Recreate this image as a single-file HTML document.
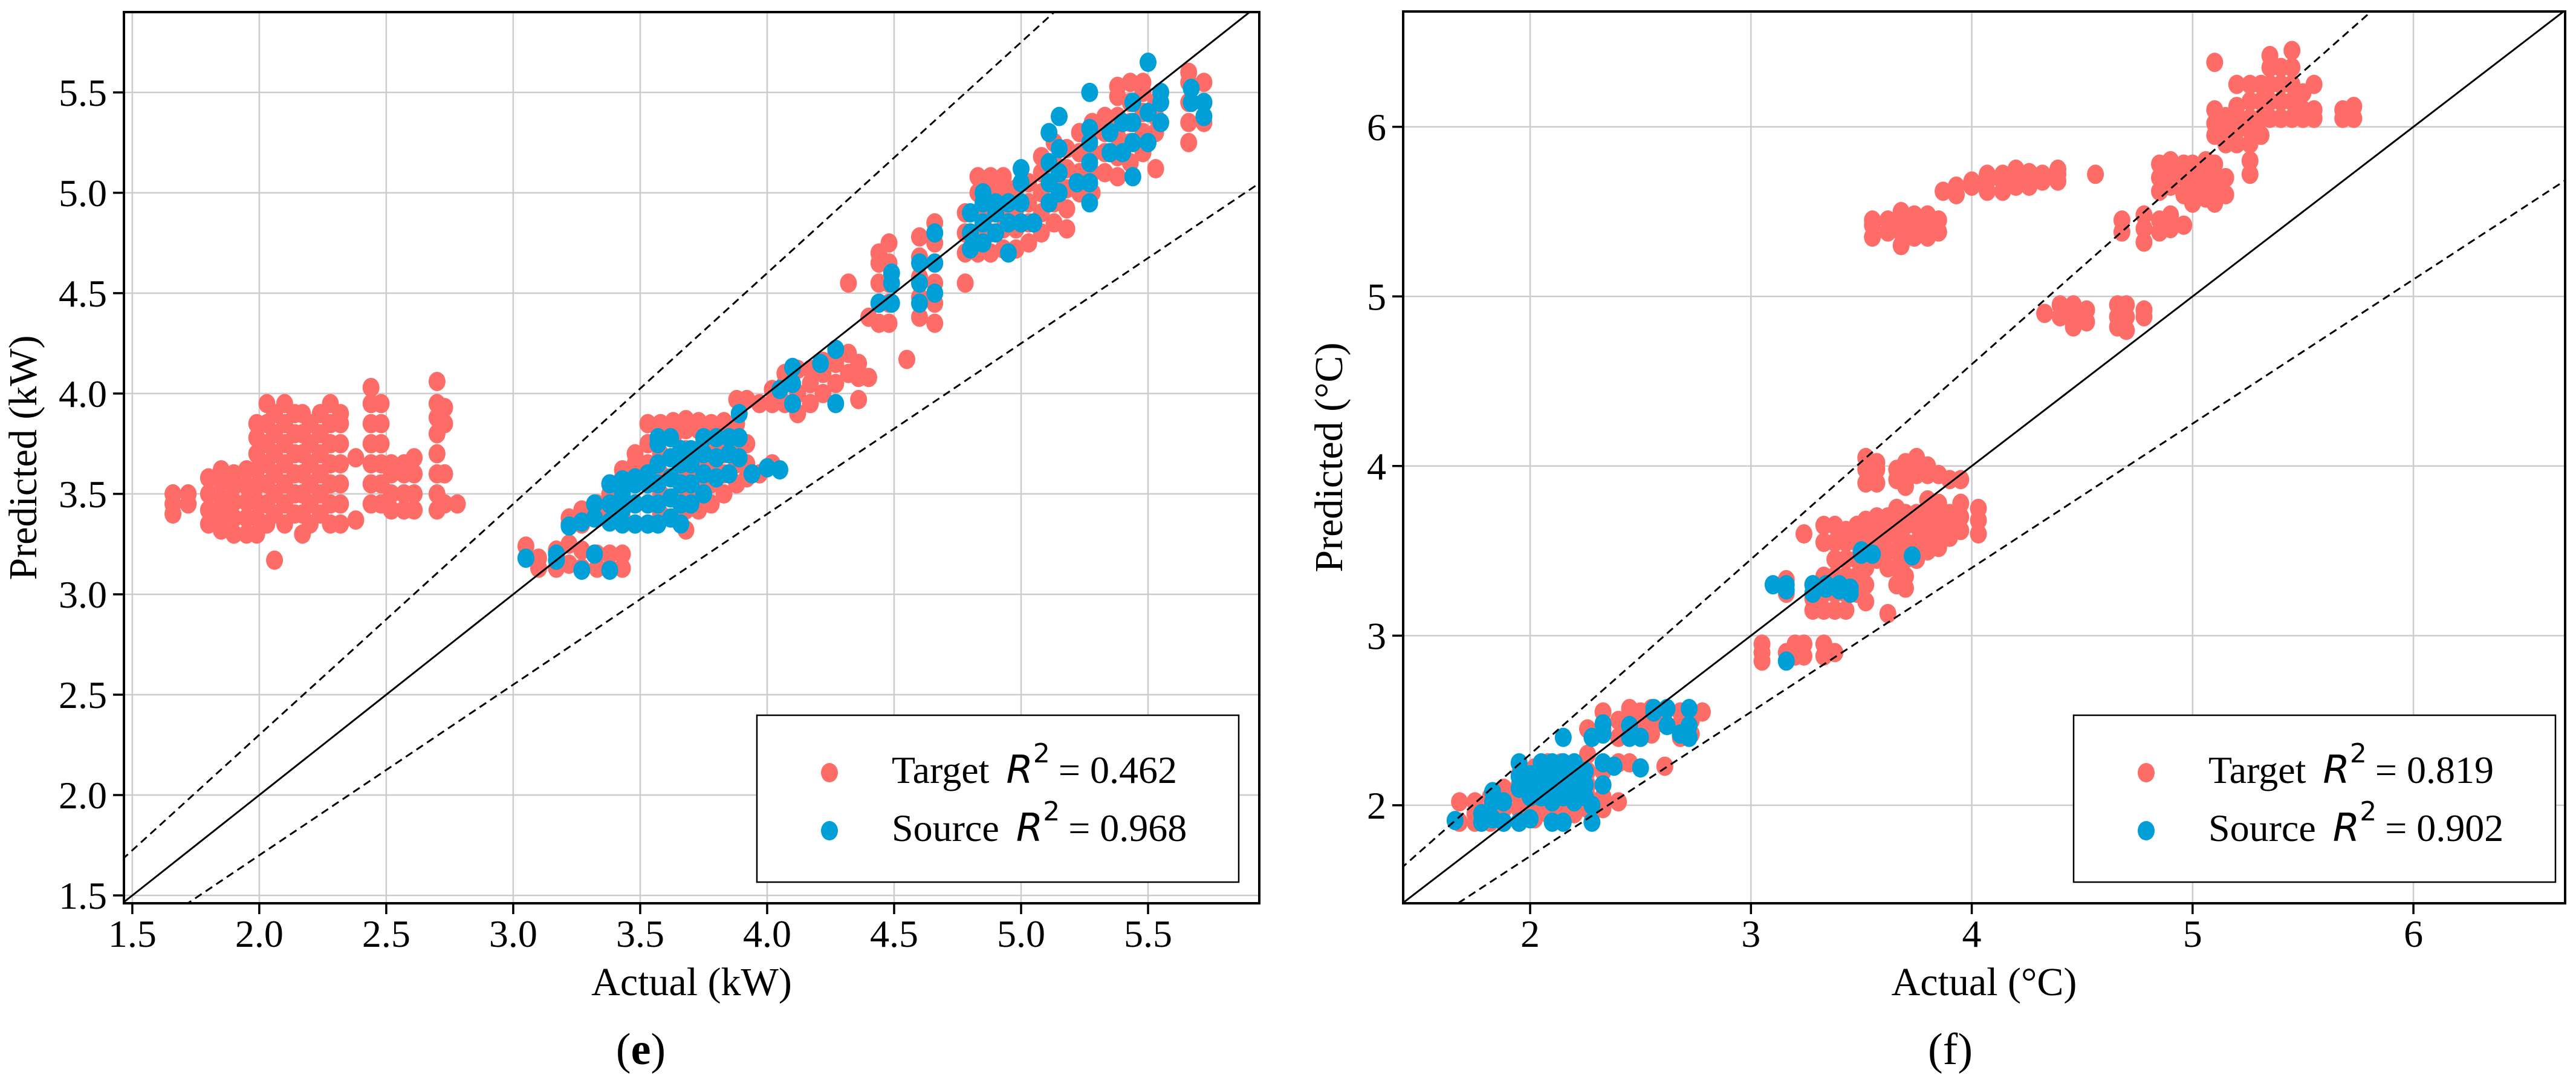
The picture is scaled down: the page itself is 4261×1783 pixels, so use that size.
<!DOCTYPE html>
<html><head><meta charset="utf-8">
<style>
html,body{margin:0;padding:0;background:#fff;}
svg{display:block;}
text{font-family:"Liberation Serif","DejaVu Serif",serif;fill:#000;}
.math{font-family:"DejaVu Sans","Liberation Sans",sans-serif;font-style:italic;}
</style></head>
<body>
<svg id="fig" width="4261" height="1783" viewBox="0 0 4261 1783" xmlns="http://www.w3.org/2000/svg">
<g id="pe"></g>
<g id="pf"></g>
</svg>
<script>
// ---- Panel (e) data: columns [x, y1, y2, ...] ----
const eTicksX = [1.5,2.0,2.5,3.0,3.5,4.0,4.5,5.0,5.5];
const eTicksY = [1.5,2.0,2.5,3.0,3.5,4.0,4.5,5.0,5.5];
const eTarget = [
[1.66,3.4,3.45,3.5],[1.72,3.45,3.5],[1.8,3.35,3.42,3.5,3.58],[1.85,3.32,3.4,3.48,3.56,3.62],
[1.9,3.3,3.38,3.46,3.54,3.6],[1.95,3.3,3.38,3.46,3.54,3.62],[1.99,3.3,3.38,3.46,3.54,3.62,3.7,3.78,3.85],
[2.03,3.35,3.45,3.55,3.65,3.75,3.85,3.95],[2.06,3.17,3.4,3.5,3.6,3.7,3.8,3.9],[2.1,3.35,3.45,3.55,3.65,3.75,3.85,3.95],
[2.14,3.4,3.5,3.6,3.7,3.8,3.9],[2.17,3.3,3.4,3.5,3.6,3.7,3.8,3.9],[2.2,3.35,3.45,3.55,3.65,3.75,3.85],
[2.24,3.4,3.5,3.6,3.7,3.8,3.9],[2.28,3.35,3.45,3.55,3.65,3.75,3.85,3.95],[2.32,3.35,3.45,3.55,3.65,3.75,3.85,3.9],
[2.38,3.37,3.68],[2.44,3.45,3.55,3.65,3.75,3.85,3.95,4.03],[2.48,3.45,3.55,3.65,3.75,3.85,3.95],
[2.52,3.42,3.5,3.6,3.65],[2.57,3.42,3.5,3.6,3.65],[2.61,3.42,3.5,3.6,3.68],
[2.7,3.42,3.5,3.6,3.7,3.8,3.88,3.95,4.06],[2.73,3.45,3.6,3.85,3.93],[2.78,3.45],
[3.05,3.18,3.24],[3.1,3.13,3.18],[3.17,3.13,3.22],[3.22,3.15,3.25,3.35,3.38],[3.27,3.13,3.22,3.35,3.42],
[3.33,3.13,3.2,3.38,3.45],[3.38,3.13,3.2,3.4,3.5,3.55],[3.43,3.13,3.2,3.38,3.48,3.58,3.62],
[3.48,3.35,3.45,3.55,3.65,3.7],[3.53,3.35,3.45,3.55,3.65,3.75,3.85],[3.58,3.4,3.5,3.6,3.7,3.8,3.85],
[3.63,3.38,3.48,3.58,3.68,3.78,3.86],[3.68,3.32,3.42,3.52,3.62,3.72,3.82,3.87],[3.73,3.42,3.52,3.62,3.72,3.82,3.86],
[3.78,3.45,3.55,3.65,3.75,3.85],[3.83,3.5,3.6,3.7,3.8,3.86],[3.88,3.55,3.65,3.75,3.85,3.97],
[3.92,3.58,3.65,3.75,3.97],[3.97,3.6,3.95],[4.02,3.65,3.95,4.02],[4.07,3.95,4.05,4.1],[4.12,3.9,4.0,4.12],
[4.17,3.95,4.05,4.12],[4.22,4.0,4.1,4.16],[4.27,4.05,4.15,4.2],[4.32,4.1,4.2,4.55],[4.36,3.97,4.08,4.15],
[4.4,4.08,4.38],[4.44,4.35,4.45,4.55,4.65,4.7],[4.48,4.35,4.45,4.55,4.65,4.75],[4.55,4.17],
[4.6,4.38,4.48,4.58,4.68,4.78],[4.66,4.35,4.45,4.55,4.65,4.75,4.85],[4.78,4.55,4.7,4.8,4.9],
[4.83,4.7,4.8,4.9,5.0,5.08],[4.88,4.7,4.8,4.9,5.0,5.08],[4.93,4.72,4.82,4.92,5.02,5.08],[4.98,4.72,4.82,4.92,5.02],
[5.03,4.75,4.85,4.95,5.05],[5.08,4.8,4.9,5.0,5.1,5.18],[5.13,4.85,4.95,5.05,5.15,5.25],[5.18,4.82,4.92,5.02,5.12,5.22],
[5.23,5.0,5.1,5.2,5.3],[5.28,5.0,5.1,5.2,5.3,5.35],[5.33,5.1,5.2,5.3,5.38],[5.38,5.08,5.18,5.28,5.38,5.48,5.53],
[5.43,5.15,5.25,5.35,5.45,5.55],[5.48,5.2,5.3,5.4,5.5,5.55],[5.53,5.12,5.3,5.38,5.45],
[5.66,5.25,5.35,5.45,5.55,5.6],[5.72,5.35,5.45,5.55]
];
const eSource = [
[3.05,3.18],[3.17,3.17,3.2],[3.22,3.34],[3.27,3.12,3.36],[3.32,3.2,3.38,3.45],[3.38,3.12,3.36,3.45,3.55],
[3.43,3.35,3.42,3.5,3.57],[3.48,3.35,3.45,3.55,3.58],[3.53,3.35,3.45,3.55,3.6],[3.57,3.35,3.45,3.55,3.65,3.75,3.78],
[3.62,3.38,3.48,3.58,3.68,3.78],[3.66,3.35,3.45,3.55,3.65,3.72],[3.7,3.45,3.55,3.65,3.72],[3.75,3.5,3.6,3.7,3.78],
[3.8,3.58,3.68,3.78],[3.85,3.6,3.7,3.78],[3.89,3.68,3.78,3.9],[3.94,3.6],[4.0,3.63],[4.05,3.62,4.02],
[4.1,3.95,4.05,4.13],[4.21,4.15],[4.27,3.95,4.22],[4.44,4.45],[4.49,4.45,4.55,4.6],[4.6,4.45,4.55,4.65],
[4.66,4.5,4.65,4.8],[4.8,4.72,4.8,4.9],[4.85,4.75,4.85,4.95,5.0],[4.9,4.8,4.9,4.95],[4.95,4.7,4.85,4.95],
[5.0,4.85,4.95,5.05,5.12],[5.05,4.85],[5.11,4.95,5.05,5.15,5.3],[5.15,5.0,5.1,5.22,5.38],[5.22,5.05],
[5.27,4.95,5.05,5.15,5.25,5.32,5.5],[5.35,5.2,5.3],[5.4,5.2,5.35],[5.44,5.08,5.25,5.35,5.45],
[5.5,5.25,5.4,5.65],[5.55,5.35,5.45,5.5],[5.67,5.45,5.52],[5.72,5.38,5.45]
];
const eLegend = ["0.462","0.968"];

// ---- Panel (f) data ----
const fTicksX = [2,3,4,5,6];
const fTicksY = [2,3,4,5,6];
const fTarget = [
[1.68,1.9,2.02],[1.75,1.9,1.95,2.02],[1.82,1.9,1.98,2.05],[1.88,1.9,1.98,2.05,2.1],[1.95,1.9,1.98,2.05,2.12,2.18],
[2.02,1.92,2.0,2.08,2.15,2.22],[2.08,1.95,2.02,2.1,2.18,2.25],[2.14,1.95,2.02,2.1,2.18,2.25],[2.2,1.95,2.02,2.1,2.18,2.25],
[2.26,1.98,2.05,2.12,2.2,2.3,2.45],[2.33,1.98,2.05,2.12,2.2,2.45,2.55],[2.4,2.02,2.25,2.4,2.5],[2.45,2.25,2.45,2.52,2.57],
[2.5,2.4,2.48,2.55],[2.55,2.42,2.5,2.57],[2.61,2.23,2.48,2.55],[2.68,2.4,2.48,2.55],[2.73,2.42,2.5,2.55],[2.78,2.55],
[3.05,2.85,2.9,2.95],[3.16,2.9,3.25,3.33],[3.2,2.88,2.95],[3.24,2.88,2.95,3.6],[3.28,3.15,3.22,3.3],
[3.33,2.88,2.95,3.15,3.25,3.35,3.55,3.65],[3.38,2.9,3.15,3.25,3.35,3.45,3.55,3.65],[3.43,3.15,3.25,3.35,3.45,3.55,3.62],
[3.48,3.25,3.35,3.45,3.55,3.65],[3.52,3.2,3.3,3.4,3.5,3.6,3.68,3.9,3.98,4.05],[3.57,3.45,3.55,3.65,3.7,3.9,3.98,4.02],
[3.62,3.13,3.4,3.5,3.6,3.7],[3.66,3.3,3.4,3.5,3.6,3.7,3.75,3.92,3.98],[3.7,3.28,3.35,3.45,3.55,3.65,3.72,3.88,3.95,4.02],
[3.75,3.45,3.55,3.65,3.72,3.95,4.05],[3.8,3.5,3.58,3.65,3.72,3.8,3.95,4.0],[3.85,3.52,3.62,3.7,3.78,3.95],
[3.9,3.58,3.65,3.72,3.92],[3.95,3.62,3.7,3.78,3.92],[4.03,3.6,3.68,3.75],
[3.55,5.35,5.42,5.45],[3.62,5.38,5.45],[3.68,5.3,5.38,5.45,5.5],[3.74,5.35,5.42,5.48],[3.8,5.35,5.42,5.48],[3.85,5.38,5.45],
[3.87,5.62],[3.93,5.6,5.65],[4.0,5.65,5.68],[4.07,5.62,5.68,5.72],[4.14,5.62,5.68,5.72],[4.2,5.65,5.7,5.75],
[4.26,5.65,5.7,5.73],[4.32,5.68,5.72],[4.39,5.68,5.72,5.75],[4.56,5.72],
[4.33,4.9],[4.4,4.88,4.95],[4.46,4.82,4.9,4.95],[4.52,4.85,4.92],[4.66,4.82,4.88,4.95],[4.7,4.8,4.88,4.95],[4.78,4.88,4.92],
[4.68,5.38,5.45],[4.78,5.32,5.4,5.48],[4.85,5.38,5.45,5.62,5.7,5.78],[4.9,5.4,5.48,5.65,5.72,5.8],[4.96,5.42,5.6,5.7,5.78],
[5.0,5.55,5.62,5.7,5.78],[5.06,5.58,5.65,5.72,5.8],[5.1,5.55,5.62,5.7,5.78,5.95,6.02,6.1,6.38],[5.15,5.6,5.7,5.9,5.98,6.06],
[5.2,5.9,5.98,6.05,6.12,6.25],[5.26,5.72,5.8,5.9,5.98,6.05,6.15,6.25],[5.31,5.95,6.05,6.15,6.25],
[5.35,6.05,6.15,6.25,6.35,6.42],[5.4,6.05,6.15,6.25,6.35],[5.45,6.05,6.15,6.25,6.35,6.45],[5.5,6.05,6.1,6.2],
[5.55,6.05,6.1,6.25],[5.68,6.05,6.1],[5.73,6.05,6.12]
];
const fSource = [
[1.66,1.91],[1.78,1.9,1.95],[1.83,1.92,2.02,2.08],[1.88,1.9,2.02],[1.95,1.9,2.1,2.17,2.25],[2.0,1.92,2.05,2.12,2.18],
[2.05,2.05,2.12,2.2,2.25],[2.1,1.9,2.02,2.1,2.18,2.25],[2.15,1.9,2.05,2.12,2.2,2.25,2.4],[2.2,2.02,2.1,2.18,2.25],
[2.25,2.05,2.12,2.2],[2.28,1.9,2.0,2.4],[2.33,2.12,2.25,2.42,2.48],[2.38,2.23],[2.45,2.4,2.47],[2.5,2.22,2.4],
[2.56,2.55,2.57],[2.62,2.47,2.57],[2.68,2.42],[2.72,2.4,2.47,2.57],
[3.1,3.3],[3.16,2.85,3.27,3.3],[3.28,3.25,3.3],[3.34,3.28,3.3],[3.4,3.3,3.27],[3.45,3.25,3.28],[3.5,3.48,3.5],[3.55,3.48],[3.73,3.47]
];
const fLegend = ["0.819","0.902"];

const NS="http://www.w3.org/2000/svg";
const RED="#fd6c67", BLUE="#009fd7";
function mk(tag, attrs, parent){const e=document.createElementNS(NS,tag);for(const k in attrs)e.setAttribute(k,attrs[k]);parent.appendChild(e);return e;}

function panel(g, cfg){
  const {L,R,T,B,x0,x1,y0,y1} = cfg;
  const sx = v => L + (v-x0)/(x1-x0)*(R-L);
  const sy = v => B - (v-y0)/(y1-y0)*(B-T);
  const clipId = cfg.id+"clip";
  const defs = mk("defs",{},g);
  const cp = mk("clipPath",{id:clipId},defs);
  mk("rect",{x:L,y:T,width:R-L,height:B-T},cp);
  const grid = mk("g",{},g);
  
  
  cfg.ticksX.forEach(v=>{mk("line",{x1:sx(v),x2:sx(v),y1:T,y2:B,stroke:"#cccccc","stroke-width":2.5},grid);});
  cfg.ticksY.forEach(v=>{mk("line",{x1:L,x2:R,y1:sy(v),y2:sy(v),stroke:"#cccccc","stroke-width":2.5},grid);});
  const pts = mk("g",{"clip-path":"url(#"+clipId+")"},g);
  [[cfg.target,RED,"target"],[cfg.source,BLUE,"source"]].forEach(([data,col,nm])=>{
    const sg = mk("g",{},pts);
    
    
    data.forEach(c=>{
      for(let i=1;i<c.length;i++){
        const p = mk("ellipse",{cx:sx(c[0]),cy:sy(c[i]),rx:14,ry:16,fill:col},sg);
        
        
      }
    });
  });
  const lines = mk("g",{"clip-path":"url(#"+clipId+")"},g);
  const a=Math.min(x0,y0)-1, b=Math.max(x1,y1)+1;
  const l1=mk("line",{x1:sx(a),y1:sy(a),x2:sx(b),y2:sy(b),stroke:"#000","stroke-width":3},lines);
  
  
  const l2=mk("line",{x1:sx(a),y1:sy(a*1.15),x2:sx(b),y2:sy(b*1.15),stroke:"#000","stroke-width":3,"stroke-dasharray":"13,8"},lines);
  
  
  const l3=mk("line",{x1:sx(a),y1:sy(a*0.85),x2:sx(b),y2:sy(b*0.85),stroke:"#000","stroke-width":3,"stroke-dasharray":"13,8"},lines);
  
  
  const fr=mk("rect",{x:L,y:T,width:R-L,height:B-T,fill:"none",stroke:"#000","stroke-width":4},g);
  
  
  cfg.ticksX.forEach(v=>{
    mk("line",{x1:sx(v),x2:sx(v),y1:B,y2:B+18,stroke:"#000","stroke-width":3.5},g);
    const t=mk("text",{x:sx(v),y:B+72,"font-size":64,"text-anchor":"middle"},g);
    t.textContent = cfg.fmt(v);
    
    
  });
  cfg.ticksY.forEach(v=>{
    mk("line",{x1:L-18,x2:L,y1:sy(v),y2:sy(v),stroke:"#000","stroke-width":3.5},g);
    const t=mk("text",{x:L-28,y:sy(v)+22,"font-size":64,"text-anchor":"end"},g);
    t.textContent = cfg.fmt(v);
    
    
  });
  const xt=mk("text",{x:(L+R)/2,y:B+152,"font-size":66,"text-anchor":"middle"},g);
  xt.textContent=cfg.xlabel;
  
  
  const yt=mk("text",{x:0,y:0,"font-size":66,"text-anchor":"middle",transform:`translate(${cfg.ylabX},${(T+B)/2}) rotate(-90)`},g);
  yt.textContent=cfg.ylabel;
  
  
  const pl=mk("text",{x:cfg.letterX,y:1760,"font-size":74,"text-anchor":"middle"},g);
  pl.innerHTML=cfg.letter;
  
  
  const lg=mk("g",{},g);
  
  
  const lx=cfg.legX, ly=1183;
  mk("rect",{x:lx,y:ly,width:797,height:276,fill:"#fff",stroke:"#000","stroke-width":2.5},lg);
  [["Target",RED,cfg.legend[0],95],["Source",BLUE,cfg.legend[1],191]].forEach(([nm,col,val,dy])=>{
    const e=mk("g",{},lg);
    
    
    mk("ellipse",{cx:lx+120,cy:ly+dy,rx:14,ry:16,fill:col},e);
    const t=mk("text",{x:lx+223,y:ly+dy+17,"font-size":64},e);
    t.innerHTML = nm+'<tspan class="math" dx="28">R</tspan><tspan font-size="44" dy="-34" font-family="DejaVu Sans">2</tspan><tspan dx="14" dy="34">= '+val+'</tspan>';
  });
}

panel(document.getElementById("pe"),{id:"e",L:205,R:2083,T:20,B:1494,x0:1.467,x1:5.938,y0:1.461,y1:5.90,
  ticksX:eTicksX,ticksY:eTicksY,target:eTarget,source:eSource,fmt:v=>v.toFixed(1),
  xlabel:"Actual (kW)",ylabel:"Predicted (kW)",ylabX:60,letter:'(<tspan font-weight="bold">e</tspan>)',letterX:1060,legX:1252,legend:eLegend});
panel(document.getElementById("pf"),{id:"f",L:2321,R:4243,T:19,B:1494,x0:1.425,x1:6.687,y0:1.422,y1:6.68,
  ticksX:fTicksX,ticksY:fTicksY,target:fTarget,source:fSource,fmt:v=>String(v),
  xlabel:"Actual (\u00B0C)",ylabel:"Predicted (\u00B0C)",ylabX:2220,letter:'(<tspan>f</tspan>)',letterX:3226,legX:3430,legend:fLegend});
</script>
</body></html>
